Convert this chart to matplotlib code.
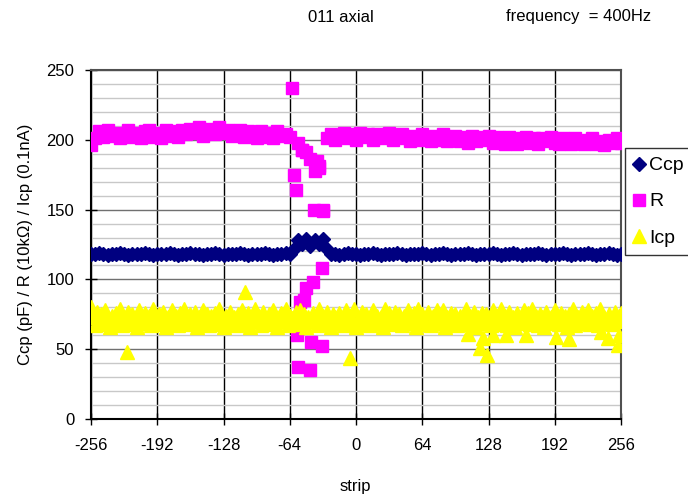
import numpy as np
import matplotlib
matplotlib.use("Agg")
import matplotlib.pyplot as plt
from matplotlib.ticker import MultipleLocator

plt.rcParams['font.family'] = ['Liberation Sans', 'DejaVu Sans']
plt.rcParams['axes.unicode_minus'] = False

# ---------------- data ----------------
strips = np.arange(-256, 257, 4)
strips_fine = np.arange(-256, 257, 2)

ccp = [118.5,118,119,118,117.5,118,118.5,119,118,117.5,
       118,118.5,118,119,118,117.5,118,118.5,118,119,
       118,117.5,118,118.5,119,118,118,117.5,118.5,118,
       119,118,117.5,118,118.5,118,119,118,117.5,118,
       118.5,118,119,118,117.5,118,118.5,119,118.5,
       122,128,125,129,124,128,125,129,122,
       118.5,118,117.5,118,119,118,118.5,117.5,118,118.5,
       119,118,117.5,118,118.5,118,119,118,117.5,118,
       118.5,118,119,118,117.5,118,118.5,119,118,117.5,
       118,118.5,118,119,118,117.5,118,118.5,118,119,
       118,117.5,118,118.5,119,118,117.5,118,118.5,118,
       119,118,117.5,118,118.5,118,119,118,117.5,118,
       118.5,118,119,118,117.5,118,118.5,119,118,117.5,
       118]

r_vals = [196,
          201,206,202,207,203,205,201,204,207,202,
          205,201,206,207,202,205,201,207,203,206,
          202,207,204,208,
          205,209,203,208,206,204,209,205,207,203,206,
          207,202,206,204,201,206,202,205,201,206,203,204,
          202,
          175,198,193,191,186,178,181,149,
          201,
          204,200,203,205,201,204,200,205,202,204,
          200,204,201,203,205,200,202,204,201,199,
          203,200,204,201,199,203,200,204,199,202,
          203,199,202,198,203,199,202,200,203,198,
          202,199,197,202,200,197,201,202,198,201,
          197,201,199,202,198,197,201,199,197,201,
          198,197,200,201,197,199,196,200,198,201,
          198]

r_extra_x = [-62, -58, -52, -38, -36, -41, -32, -56, -44, -57, -54, -50, -48, -42, -33, -43, -33]
r_extra_y = [237, 164, 193, 185, 180, 150, 150, 37, 35, 60, 84, 85, 94, 98, 108, 55, 52]

icp = [80,73,67,77,70,75,68,78,71,66,
       74,69,76,72,79,67,73,70,77,68,
       75,71,66,78,73,69,76,70,74,67,
       79,72,68,75,70,77,66,73,71,78,
       69,74,67,76,72,79,70,68,75,71,
       77,66,73,69,78,72,75,67,74,70,
       76,68,79,71,66,74,70,77,69,73,
       67,75,72,78,68,71,76,66,73,79,
       70,74,67,77,72,69,75,68,78,71,
       66,73,76,70,79,67,74,72,68,77,
       71,78,69,75,66,73,70,76,72,67,
       79,70,74,68,77,71,66,75,73,69,
       76,72,67,78,70,74,69,79,66,73,
       68,77,71,75,72,67,78,70,74,69,
       73,66,79,70,76,68,72,77,71,75,
       67,74,69,78,73,70,76,66,79,72,
       75,71,68,77,67,74,70,78,72,69,
       78,66,73,71,76,69,75,67,74,70,
       72,79,68,74,70,77,66,73,71,76,
       69,75,72,67,78,70,74,68,79,71,
       74,67,77,70,73,66,76,72,69,78,
       70,76,68,79,71,74,67,75,73,66,
       77,69,73,70,78,72,68,76,71,74,
       66,75,71,79,67,73,70,77,69,72,
       78,68,74,70,76,67,79,71,73,69,
       75,72,68,77,70,74,76]

icp_extra_x = [-221, -107, -6, 108, 120, 123, 127, 132, 145, 164, 193, 206, 237, 243, 253, 254]
icp_extra_y = [48, 91, 44, 61, 51, 58, 46, 60, 60, 60, 59, 57, 62, 58, 53, 60]

x_ticks = [-256, -192, -128, -64, 0, 64, 128, 192, 256]
y_ticks = [0, 50, 100, 150, 200, 250]

# ---------------- figure ----------------
fig = plt.figure(figsize=(6.88, 4.97), dpi=100)
ax = fig.add_axes([91/688, 1-419/497, 530/688, 349/497])

r_x = list(strips) + r_extra_x
r_y = list(r_vals) + r_extra_y
i_x = list(strips_fine) + icp_extra_x
i_y = list(icp) + icp_extra_y

ax.plot(strips, ccp, linestyle='none', marker='D', markersize=7.5,
        color='#000080', markeredgecolor='#000080', label='Ccp', zorder=3)
ax.plot(r_x, r_y, linestyle='none', marker='s', markersize=9,
        color='#FF00FF', markeredgecolor='#FF00FF', label='R', zorder=4)
ax.plot(i_x, i_y, linestyle='none', marker='^', markersize=10,
        color='#FFFF00', markeredgecolor='#FFFF00', label='Icp', zorder=5)

ax.set_xlim(-256, 256)
ax.set_ylim(0, 250)
ax.set_xticks(x_ticks)
ax.set_yticks(y_ticks)
ax.yaxis.set_minor_locator(MultipleLocator(10))

ax.grid(which='minor', axis='y', color='#c8c8c8', linewidth=1.0, zorder=0)
ax.grid(which='major', axis='y', color='#707070', linewidth=1.0, zorder=0)
ax.grid(which='major', axis='x', color='black', linewidth=1.0, zorder=0)
ax.set_axisbelow(True)

ax.tick_params(axis='both', which='major', direction='inout', length=8,
               width=1, labelsize=12, colors='black')
ax.tick_params(axis='x', pad=10)
ax.tick_params(axis='y', pad=8)
ax.tick_params(axis='y', which='minor', length=0)

for side in ['left', 'bottom']:
    ax.spines[side].set_color('black')
    ax.spines[side].set_linewidth(1.5)
for side in ['top', 'right']:
    ax.spines[side].set_color('#505050')
    ax.spines[side].set_linewidth(1.5)

fig.text(355/688, 1-487/497, 'strip', fontsize=12, ha='center', va='center')
ax.set_ylabel('Ccp (pF) / R (10kΩ) / Icp (0.1nA)', fontsize=12, labelpad=10)

fig.text(341/688, 1-17/497, '011 axial', fontsize=12, ha='center', va='center')
fig.text(579/688, 1-17/497, 'frequency  = 400Hz', fontsize=12, ha='center', va='center')

leg = fig.legend(loc='upper left', bbox_to_anchor=(625/688, 1-148/497),
                 fontsize=14, frameon=True, fancybox=False, shadow=False,
                 handlelength=0.5, handletextpad=0.3, labelspacing=0.95,
                 borderpad=0.45, borderaxespad=0)
leg.get_frame().set_edgecolor('black')
leg.get_frame().set_linewidth(1.0)

fig.savefig('out.png', dpi=100)
